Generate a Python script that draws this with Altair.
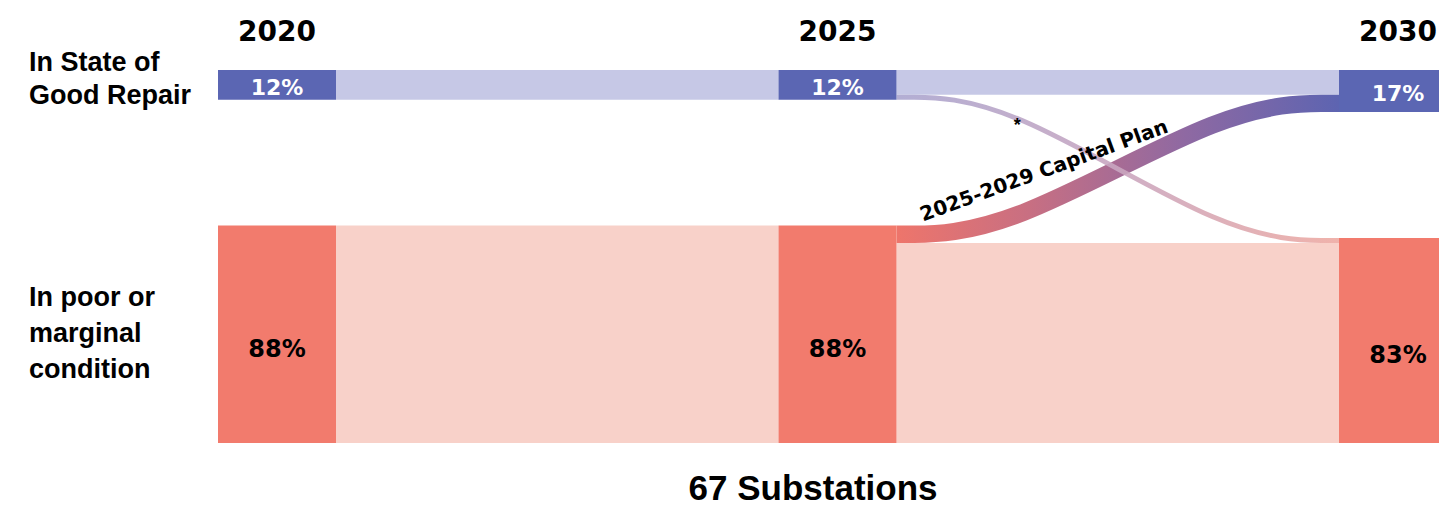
import altair as alt
import pandas as pd

# ---------------- data ----------------
years = [2020, 2025, 2030]
good_pct = [12, 12, 17]
poor_pct = [88, 88, 83]
good_labels = ["12%", "12%", "17%"]
poor_labels = ["88%", "88%", "83%"]

link_from_year = [2020, 2020, 2025, 2025, 2025, 2025]
link_to_year = [2025, 2025, 2030, 2030, 2030, 2030]
link_source = ["good", "poor", "good", "good", "poor", "poor"]
link_target = ["good", "poor", "good", "poor", "good", "poor"]
link_value = [12, 88, 10, 2, 7, 81]

row_labels = ["In State of\nGood Repair", "In poor or\nmarginal\ncondition"]
total_label = "67 Substations"
plan_label = "2025-2029 Capital Plan"
star_label = "*"

# ---------------- layout ----------------
W, H = 1431, 500
PX_PER_YEAR = 112.1
X_LEFT = 210
NODE_W = 118 / PX_PER_YEAR
K = 2.47          # px per percentage point
Y_TOP = 62
GAP = 51          # gap between rows, in percentage units
CURVE_A = 0.24    # horizontal reach of the link control points

x_dom = [2020 - X_LEFT / PX_PER_YEAR, 2020 + (W - X_LEFT) / PX_PER_YEAR]
y_dom = [-Y_TOP / K, (H - Y_TOP) / K]
xsc = alt.Scale(domain=x_dom, nice=False, zero=False)
ysc = alt.Scale(domain=y_dom, nice=False, zero=False, reverse=True)

order = {"good": 0, "poor": 1}
node_rows = []
node_pos = {}
for yr, g, p, gl, pl in zip(years, good_pct, poor_pct, good_labels, poor_labels):
    node_pos[(yr, "good")] = (0, g)
    node_pos[(yr, "poor")] = (g + GAP, g + GAP + p)
    node_rows.append(dict(year=yr, x2=yr + NODE_W, xm=yr + NODE_W / 2, cat="good",
                          y0=0, y1=g, ym=g / 2, label=gl))
    node_rows.append(dict(year=yr, x2=yr + NODE_W, xm=yr + NODE_W / 2, cat="poor",
                          y0=g + GAP, y1=g + GAP + p, ym=g + GAP + p / 2, label=pl))
nodes = pd.DataFrame(node_rows)

link_list = []
for i, (fy, ty, s, t, v) in enumerate(zip(link_from_year, link_to_year, link_source, link_target, link_value)):
    link_list.append(dict(id=i, fy=fy, ty=ty, s=s, t=t, v=v))

src_off = {k: v[0] for k, v in node_pos.items()}
tgt_off = {k: v[0] for k, v in node_pos.items()}
for L in sorted(link_list, key=lambda L: (L["fy"], order[L["s"]], order[L["t"]])):
    L["s0"] = src_off[(L["fy"], L["s"])]
    src_off[(L["fy"], L["s"])] += L["v"]
for L in sorted(link_list, key=lambda L: (L["ty"], order[L["t"]], order[L["s"]])):
    L["t0"] = tgt_off[(L["ty"], L["t"])]
    tgt_off[(L["ty"], L["t"])] += L["v"]
for L in link_list:
    L["s1"] = L["s0"] + L["v"]
    L["t1"] = L["t0"] + L["v"]
    L["lx0"] = L["fy"] + NODE_W
    L["lx1"] = L["ty"]

straight = pd.DataFrame([L for L in link_list if L["s0"] == L["t0"]])
curve_rows = []
for L in link_list:
    if L["s0"] == L["t0"]:
        continue
    span = L["lx1"] - L["lx0"]
    ya = (L["s0"] + L["s1"]) / 2
    yb = (L["t0"] + L["t1"]) / 2
    ctrl = [(L["lx0"], ya), (L["lx0"] + CURVE_A * span, ya),
            (L["lx1"] - CURVE_A * span, yb), (L["lx1"], yb)]
    for i, (px, py) in enumerate(ctrl):
        curve_rows.append(dict(id=L["id"], s=L["s"], t=L["t"], v=L["v"], i=i, px=px, py=py))
curves = pd.DataFrame(curve_rows)

annot = pd.DataFrame([
    dict(kind="plan", text=plan_label, ax=2027.37, ay=40.9),
    dict(kind="star", text=star_label, ax=2027.13, ay=22.5),
])

BLUE, RED = "#5b66b3", "#f27b6d"
LBLUE, LRED = "#c6c8e6", "#f8d1c9"

links_rect = alt.Chart(straight).mark_rect().encode(
    x=alt.X("lx0:Q", scale=xsc, axis=None), x2="lx1:Q",
    y=alt.Y("s0:Q", scale=ysc, axis=None), y2="s1:Q",
    color=alt.Color("s:N", scale=alt.Scale(domain=["good", "poor"], range=[LBLUE, LRED]), legend=None),
)

size_scale = alt.Scale(domain=[0, 100], range=[0, 100 * K])

def curve_layer(src, grad, opacity=1.0):
    return alt.Chart(curves[curves.s == src]).mark_line(
        interpolate="basis", stroke=grad, strokeCap="butt", opacity=opacity
    ).encode(
        x=alt.X("px:Q", scale=xsc, axis=None),
        y=alt.Y("py:Q", scale=ysc, axis=None),
        order="i:Q",
        size=alt.Size("v:Q", scale=size_scale, legend=None),
    )

grad_up = alt.LinearGradient(gradient="linear", x1=0, x2=1, y1=0, y2=0, stops=[
    alt.GradientStop(color="#ee756b", offset=0),
    alt.GradientStop(color="#c86f82", offset=0.3),
    alt.GradientStop(color="#8f69a2", offset=0.65),
    alt.GradientStop(color="#5d64b1", offset=1),
])
grad_down = alt.LinearGradient(gradient="linear", x1=0, x2=1, y1=0, y2=0, stops=[
    alt.GradientStop(color="#aaa5cf", offset=0),
    alt.GradientStop(color="#c9a6c0", offset=0.5),
    alt.GradientStop(color="#eeaaa2", offset=1),
])

up = curve_layer("poor", grad_up)
down = curve_layer("good", grad_down, 0.9)

node_rect = alt.Chart(nodes).mark_rect().encode(
    x=alt.X("year:Q", scale=xsc, axis=None), x2="x2:Q",
    y=alt.Y("y0:Q", scale=ysc, axis=None), y2="y1:Q",
    color=alt.Color("cat:N", scale=alt.Scale(domain=["good", "poor"], range=[BLUE, RED]), legend=None),
)

good_txt = alt.Chart(nodes[nodes.cat == "good"]).mark_text(
    font="DejaVu Sans", fontWeight="bold", fontSize=22, color="white", baseline="middle", dy=3
).encode(x=alt.X("xm:Q", scale=xsc, axis=None), y=alt.Y("ym:Q", scale=ysc, axis=None), text="label:N")

poor_txt = alt.Chart(nodes[nodes.cat == "poor"]).mark_text(
    font="DejaVu Sans", fontWeight="bold", fontSize=24, color="black", baseline="middle", dy=16
).encode(x=alt.X("xm:Q", scale=xsc, axis=None), y=alt.Y("ym:Q", scale=ysc, axis=None), text="label:N")

year_df = nodes[nodes.cat == "good"][["year", "xm"]].copy()
year_df["ytxt"] = year_df["year"].astype(str)
year_txt = alt.Chart(year_df).mark_text(
    font="DejaVu Sans", fontWeight="bold", fontSize=28, color="black", baseline="middle"
).encode(x=alt.X("xm:Q", scale=xsc, axis=None), y=alt.value(25), text="ytxt:N")

first = nodes[nodes.year == years[0]].copy()
first["row"] = row_labels
row_good = alt.Chart(first[first.cat == "good"]).mark_text(
    font="Liberation Sans", fontWeight="bold", fontSize=27, align="left", baseline="middle",
    lineBreak="\n", lineHeight=33, dy=-22, color="black"
).encode(x=alt.value(21), y=alt.Y("ym:Q", scale=ysc, axis=None), text="row:N")
row_poor = alt.Chart(first[first.cat == "poor"]).mark_text(
    font="Liberation Sans", fontWeight="bold", fontSize=27, align="left", baseline="middle",
    lineBreak="\n", lineHeight=36, dy=-36, color="black"
).encode(x=alt.value(21), y=alt.Y("ym:Q", scale=ysc, axis=None), text="row:N")

plan_txt = alt.Chart(annot[annot.kind == "plan"]).mark_text(
    font="DejaVu Sans", fontWeight="bold", fontSize=20, angle=340, color="black", baseline="middle"
).encode(x=alt.X("ax:Q", scale=xsc, axis=None), y=alt.Y("ay:Q", scale=ysc, axis=None), text="text:N")
star_txt = alt.Chart(annot[annot.kind == "star"]).mark_text(
    font="Liberation Sans", fontWeight="bold", fontSize=18, color="black", baseline="middle"
).encode(x=alt.X("ax:Q", scale=xsc, axis=None), y=alt.Y("ay:Q", scale=ysc, axis=None), text="text:N")

total_txt = alt.Chart(pd.DataFrame({"t": [total_label]})).mark_text(
    font="Liberation Sans", fontWeight="bold", fontSize=35, color="black", baseline="alphabetic"
).encode(x=alt.value(805), y=alt.value(492), text="t:N")

chart = alt.layer(
    links_rect, up, down, node_rect, good_txt, poor_txt, year_txt,
    row_good, row_poor, plan_txt, star_txt, total_txt
).resolve_scale(color="independent").properties(
    width=W, height=H, padding=0, autosize=alt.AutoSizeParams(type="none")
).configure_view(stroke=None)

chart.save("out.html", embed_options={"renderer": "svg", "actions": False})
